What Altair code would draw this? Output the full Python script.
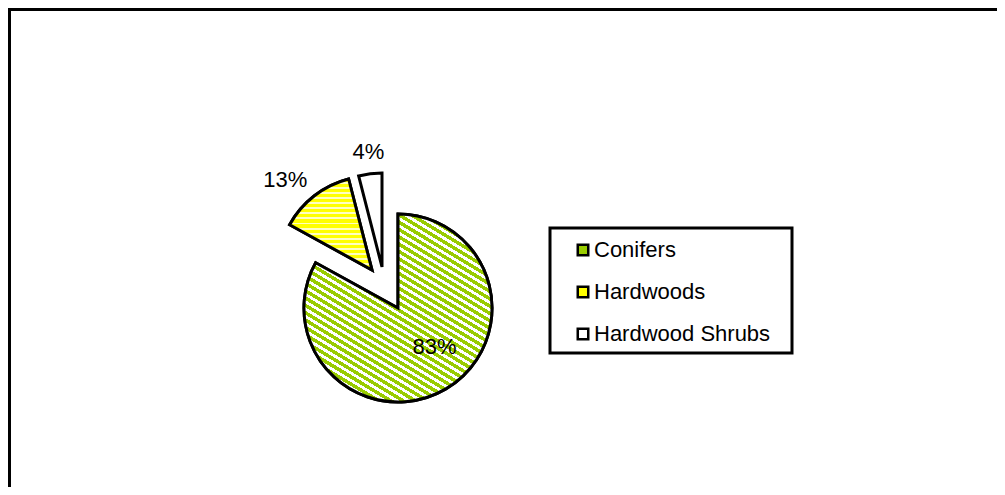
import math
import altair as alt
import pandas as pd

# ---- data ----
categories = ["Conifers", "Hardwoods", "Hardwood Shrubs"]
values = [83, 13, 4]
labels = ["83%", "13%", "4%"]
order = [0, 1, 2]

df = pd.DataFrame({"category": categories, "value": values, "label": labels, "order": order})

# ---- styles ----
colors = ["#99cc00", "#ffff00", "#ffffff"]
W, H = 989, 479
CX, CY = 390, 300
R = 94
explode = {"Conifers": (0, 0), "Hardwoods": (-26, -38), "Hardwood Shrubs": (-16, -41)}
label_style = {  # radius, xOffset, yOffset
    "Conifers": (54, 9, -7),
    "Hardwoods": (125, -10, 9),
    "Hardwood Shrubs": (116, 1, 0),
}
FONT = "Liberation Sans"

theta_scale = alt.Scale(domain=[0, 100], range=[0, 2 * math.pi])
color_scale = alt.Scale(domain=categories, range=colors)


def stripes(c1, c2, n, frac, x1, y1, x2, y2):
    stops = []
    for k in range(n):
        a = k / n
        b = (k + frac) / n
        c = (k + 1) / n
        stops += [
            {"offset": round(a, 5), "color": c1},
            {"offset": round(b, 5), "color": c1},
            {"offset": round(b, 5), "color": c2},
            {"offset": round(c, 5), "color": c2},
        ]
    return {"gradient": "linear", "x1": x1, "y1": y1, "x2": x2, "y2": y2, "stops": stops}


ux, uy = 0.515, -0.857
h = 0.686
conifer_fill = stripes("#99cc00", "#ffffff", 41, 0.55,
                       0.5 - h * ux, 0.5 - h * uy, 0.5 + h * ux, 0.5 + h * uy)
hardwood_fill = stripes("#ffff00", "#ffffc0", 18, 0.62, 0, 0, 0, 1)
overlay_fill = {"Conifers": conifer_fill, "Hardwoods": hardwood_fill}

base = (
    alt.Chart(df)
    .transform_window(cum="sum(value)", sort=[alt.SortField("order")])
    .transform_calculate(start="datum.cum - datum.value",
                         mid="datum.cum - datum.value / 2")
)

layers = []

# frame (top and left edges visible in the reference)
frame = alt.Chart(pd.DataFrame({"a": [0]}))
layers.append(frame.mark_rule(color="black", strokeWidth=3).encode(
    x=alt.value(0), x2=alt.value(W), y=alt.value(1.5)))
layers.append(frame.mark_rule(color="black", strokeWidth=3).encode(
    x=alt.value(1.5), y=alt.value(0), y2=alt.value(H)))

# legend box
layers.append(frame.mark_rect(filled=False, stroke="black", strokeWidth=3).encode(
    x=alt.value(542), x2=alt.value(784), y=alt.value(220), y2=alt.value(345)))

for cat in categories:
    dx, dy = explode[cat]
    sl = base.transform_filter(alt.datum.category == cat)
    layers.append(
        sl.mark_arc(outerRadius=R, stroke="black", strokeWidth=3, xOffset=dx, yOffset=dy).encode(
            theta=alt.Theta("start:Q", scale=theta_scale, stack=None),
            theta2="cum:Q",
            color=alt.Color("category:N", scale=color_scale, sort=categories,
                            legend=alt.Legend(title=None)),
            x=alt.value(CX), y=alt.value(CY),
        )
    )
    if cat in overlay_fill:
        layers.append(
            sl.mark_arc(outerRadius=R, stroke="black", strokeWidth=3, xOffset=dx, yOffset=dy,
                        fill=overlay_fill[cat]).encode(
                theta=alt.Theta("start:Q", scale=theta_scale, stack=None),
                theta2="cum:Q",
                x=alt.value(CX), y=alt.value(CY),
            )
        )

for cat in categories:
    dx, dy = explode[cat]
    r, ox, oy = label_style[cat]
    sl = base.transform_filter(alt.datum.category == cat)
    layers.append(
        sl.mark_text(radius=r, xOffset=dx + ox, yOffset=dy + oy, font=FONT, fontSize=22,
                     color="black", align="center", baseline="middle").encode(
            theta=alt.Theta("mid:Q", scale=theta_scale, stack=None),
            text="label:N",
            x=alt.value(CX), y=alt.value(CY),
        )
    )

chart = (
    alt.layer(*layers)
    .properties(width=W, height=H, autosize="none", padding=0, background="white")
    .configure_view(stroke=None)
    .configure_legend(
        orient="none", legendX=564, legendY=231, padding=0,
        symbolType="square", symbolSize=110, symbolStrokeColor="black", symbolStrokeWidth=2.5,
        labelFont=FONT, labelFontSize=22, labelColor="black", labelOffset=0,
        rowPadding=20, labelLimit=400,
    )
)

chart.save("out.html", embed_options={"renderer": "svg", "actions": False})
